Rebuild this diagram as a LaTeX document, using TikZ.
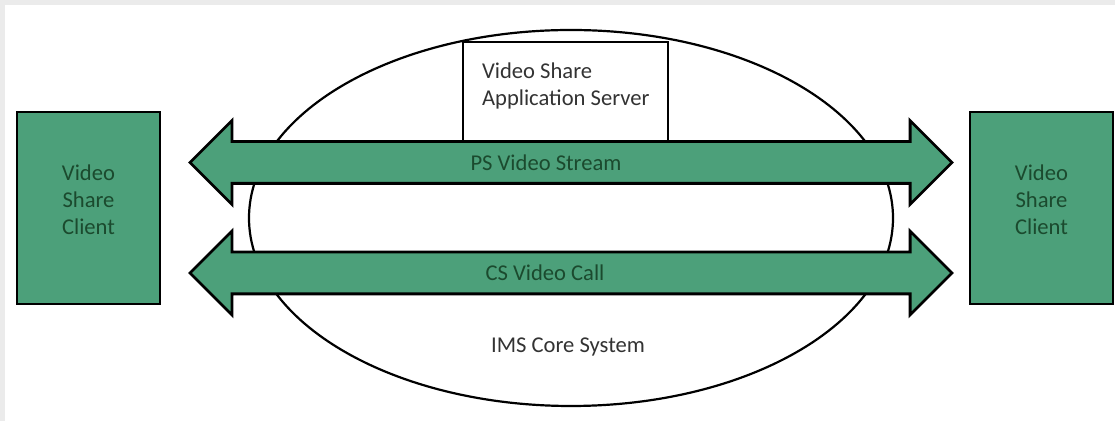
\documentclass[tikz,border=0pt]{standalone}
\usepackage{fontspec}
\setmainfont{Carlito}
\usetikzlibrary{shapes.geometric,shapes.arrows}

\definecolor{vsgreen}{HTML}{4CA07A}
\definecolor{vsdark}{HTML}{1B4A2E}
\definecolor{vsgrey}{HTML}{333333}
\definecolor{vsframe}{HTML}{EBEBEB}
\newcommand{\vsfont}{\fontsize{11.3}{13.5}\selectfont}

\begin{document}
\begin{tikzpicture}[x=0.5pt, y=-0.5pt,
    % --- Box styles ---
    client/.style={draw, line width=1.2pt, fill=vsgreen, minimum width=71.5pt,
                   minimum height=96pt, align=center, text=vsdark, font=\vsfont,
                   text depth=8pt},
    server/.style={draw, line width=1pt, fill=white, minimum width=102.5pt,
                   minimum height=50.5pt},
    core/.style={draw, ellipse, line width=1.1pt, fill=white, minimum width=322pt,
                 minimum height=188pt, inner sep=0pt},
    lbl/.style={font=\vsfont, text=vsgrey, align=left},
    % --- Arrow style ---
    stream/.style={draw, double arrow, line width=1.4pt, fill=vsgreen,
                   double arrow head extend=10.5pt, double arrow tip angle=90,
                   text height=19.5pt, text depth=0pt, inner sep=0pt,
                   minimum height=381pt},
    flowlbl/.style={font=\vsfont, text=vsdark},
]

% === Frame ===
\useasboundingbox (0,0) rectangle (1115,421);
\fill[vsframe] (0,0) rectangle (1115,421);
\fill[white] (5,5) rectangle (1115,421);

% === IMS core and the application server ===
\node[core] (ims) at (571,218) {};
\node[server] (app) at (565.5,92.5) {};
\node[lbl, anchor=west] (applbl) at (475,86) {Video Share\\Application Server};
\node[lbl] (imslbl) at (568,347) {IMS Core System};

% === The two media paths ===
\node[stream] (ps) at (571,162.5) {};
\node[stream] (cs) at (571,273) {};
\node[flowlbl] (pslbl) at ([xshift=-12.5pt]ps.center) {PS Video Stream};
\node[flowlbl] (cslbl) at ([xshift=-13pt]cs.center) {CS Video Call};

% === Clients on both sides ===
\node[client] (left)  at (88.5,208)   {Video\\Share\\Client};
\node[client] (right) at (1041.5,208) {Video\\Share\\Client};

\end{tikzpicture}
\end{document}
